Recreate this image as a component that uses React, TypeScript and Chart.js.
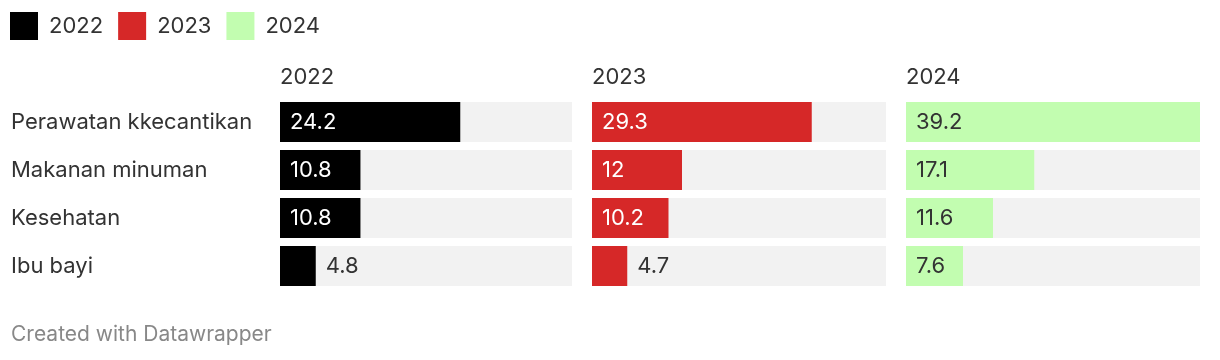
import React, { useEffect, useRef } from 'react';
import { Chart, registerables } from 'chart.js';

Chart.register(...registerables);

// ---- data ----
const CATEGORIES = ['Perawatan kkecantikan', 'Makanan minuman', 'Kesehatan', 'Ibu bayi'];
const YEARS = ['2022', '2023', '2024'];
const VALUES_2022 = [24.2, 10.8, 10.8, 4.8];
const VALUES_2023 = [29.3, 12, 10.2, 4.7];
const VALUES_2024 = [39.2, 17.1, 11.6, 7.6];
const SERIES = [VALUES_2022, VALUES_2023, VALUES_2024];
const FOOTER = 'Created with Datawrapper';

// ---- styles ----
const COLORS = ['#000000', '#d62828', '#c2fdb0'];
const INSIDE_LABEL_COLORS = ['#ffffff', '#ffffff', '#333333'];
const TRACK_COLOR = '#f2f2f2';
const TEXT_COLOR = '#333333';
const FOOTER_COLOR = '#888888';
const FONT_FAMILY = 'Inter, "Liberation Sans", Arial, sans-serif';
const FONT_SIZE = 22;
const FOOTER_SIZE = 21;
const SCALE_MAX = Math.max(...VALUES_2022, ...VALUES_2023, ...VALUES_2024);
const PANELS = [
  { left: 0, width: 572 },
  { left: 592, width: 294 },
  { left: 906, width: 294 },
];
const HEIGHT = 360;
const LEGEND_X = 10;
const LEGEND_Y = 12;
const LEGEND_BOX = 28;
const LEGEND_PAD = 15;
const LABEL_PAD = 10;
const PLOT_TOP = 98;
const PLOT_BOTTOM = 290;
const HEADER_CENTER = 77.5;
const FOOTER_CENTER = 334.5;

Chart.defaults.font.family = FONT_FAMILY;
Chart.defaults.font.size = FONT_SIZE;
Chart.defaults.color = TEXT_COLOR;

const font = { family: FONT_FAMILY, size: FONT_SIZE };
const LINE_H = FONT_SIZE * 1.2;
const FOOTER_LINE_H = FOOTER_SIZE * 1.2;

const legendNudge = {
  id: 'legendNudge',
  afterLayout(chart: any) {
    const lg = chart.legend;
    if (!lg || !lg.options.display) return;
    const p = lg.options.labels.padding;
    const dx = LEGEND_X - (lg.left + p);
    const dy = LEGEND_Y - (lg.top + p);
    lg.left += dx;
    lg.right += dx;
    lg.top += dy;
    lg.bottom += dy;
  },
};

function valueLabels(i: number) {
  return {
    id: 'valueLabels' + i,
    afterDatasetsDraw(chart: any) {
      const ctx = chart.ctx;
      const meta = chart.getDatasetMeta(0);
      const data = chart.data.datasets[0].data as number[];
      ctx.save();
      ctx.font = `${FONT_SIZE}px ${FONT_FAMILY}`;
      ctx.textBaseline = 'middle';
      ctx.textAlign = 'left';
      meta.data.forEach((bar: any, j: number) => {
        const { x, y, base } = bar.getProps(['x', 'y', 'base'], true);
        const text = String(data[j]);
        const w = ctx.measureText(text).width;
        const left = Math.min(x, base);
        const right = Math.max(x, base);
        if (right - left >= w + 2 * LABEL_PAD) {
          ctx.fillStyle = INSIDE_LABEL_COLORS[i];
          ctx.fillText(text, left + LABEL_PAD, y);
        } else {
          ctx.fillStyle = TEXT_COLOR;
          ctx.fillText(text, right + LABEL_PAD, y);
        }
      });
      ctx.restore();
    },
  };
}

function buildConfig(i: number): any {
  const first = i === 0;
  const barOpts = { grouped: false, categoryPercentage: 1, barPercentage: 40 / 48 };
  // top of x axis box: below legend in the first chart, else fixed padding
  const legendHeight = LEGEND_BOX + LEGEND_PAD + 10;
  const axisTop = first ? legendHeight : 60;
  const footerBox = HEIGHT - PLOT_BOTTOM;
  const footerPadTop = FOOTER_CENTER - FOOTER_LINE_H / 2 - PLOT_BOTTOM;
  const footerPadBottom = footerBox - footerPadTop - FOOTER_LINE_H;
  return {
    type: 'bar',
    data: {
      labels: CATEGORIES,
      datasets: [
        { label: YEARS[i], data: SERIES[i], backgroundColor: COLORS[i], order: 0, ...barOpts },
        { label: 'track', data: CATEGORIES.map(() => SCALE_MAX), backgroundColor: TRACK_COLOR, order: 1, ...barOpts },
      ],
    },
    options: {
      indexAxis: 'y',
      animation: false,
      responsive: false,
      maintainAspectRatio: false,
      events: [],
      layout: {
        padding: first
          ? { left: 11, top: 0, right: 0, bottom: 0 }
          : { left: 0, top: axisTop, right: 0, bottom: HEIGHT - PLOT_BOTTOM },
      },
      scales: {
        x: {
          position: 'top',
          min: 0,
          max: SCALE_MAX,
          ticks: { display: false },
          grid: { display: false },
          border: { display: false },
          title: {
            display: true,
            text: YEARS[i],
            align: 'start',
            color: TEXT_COLOR,
            font,
            padding: { top: HEADER_CENTER - LINE_H / 2 - axisTop, bottom: 0 },
          },
          afterFit: (s: any) => {
            s.height = PLOT_TOP - axisTop;
          },
        },
        y: {
          display: first,
          ticks: { crossAlign: 'far', color: TEXT_COLOR, font, autoSkip: false },
          grid: { display: false },
          border: { display: false },
          afterFit: (s: any) => {
            s.width = first ? 269 : 0;
          },
        },
      },
      plugins: {
        legend: {
          display: first,
          position: 'top',
          align: 'start',
          labels: {
            boxWidth: LEGEND_BOX,
            boxHeight: LEGEND_BOX,
            padding: LEGEND_PAD,
            color: TEXT_COLOR,
            font,
            generateLabels: () =>
              YEARS.map((y, k) => ({
                text: y,
                fillStyle: COLORS[k],
                strokeStyle: COLORS[k],
                lineWidth: 0,
                hidden: false,
                datasetIndex: k,
                fontColor: TEXT_COLOR,
              })),
          },
        },
        subtitle: {
          display: first,
          text: FOOTER,
          position: 'bottom',
          align: 'start',
          color: FOOTER_COLOR,
          font: { family: FONT_FAMILY, size: FOOTER_SIZE },
          padding: { top: footerPadTop, bottom: footerPadBottom },
        },
        title: { display: false },
        tooltip: { enabled: false },
      },
    },
    plugins: [valueLabels(i), legendNudge],
  };
}

function Panel({ index }: { index: number }) {
  const ref = useRef<HTMLCanvasElement | null>(null);
  useEffect(() => {
    if (!ref.current) return;
    const chart = new Chart(ref.current, buildConfig(index));
    return () => chart.destroy();
  }, [index]);
  const p = PANELS[index];
  return (
    <div style={{ position: 'absolute', left: p.left, top: 0, width: p.width, height: HEIGHT }}>
      <canvas ref={ref} width={p.width} height={HEIGHT} style={{ display: 'block' }} />
    </div>
  );
}

export default function App() {
  return (
    <div style={{ position: 'absolute', left: 0, top: 0, width: 1220, height: HEIGHT, background: '#ffffff' }}>
      {YEARS.map((_, i) => (
        <Panel key={i} index={i} />
      ))}
    </div>
  );
}
